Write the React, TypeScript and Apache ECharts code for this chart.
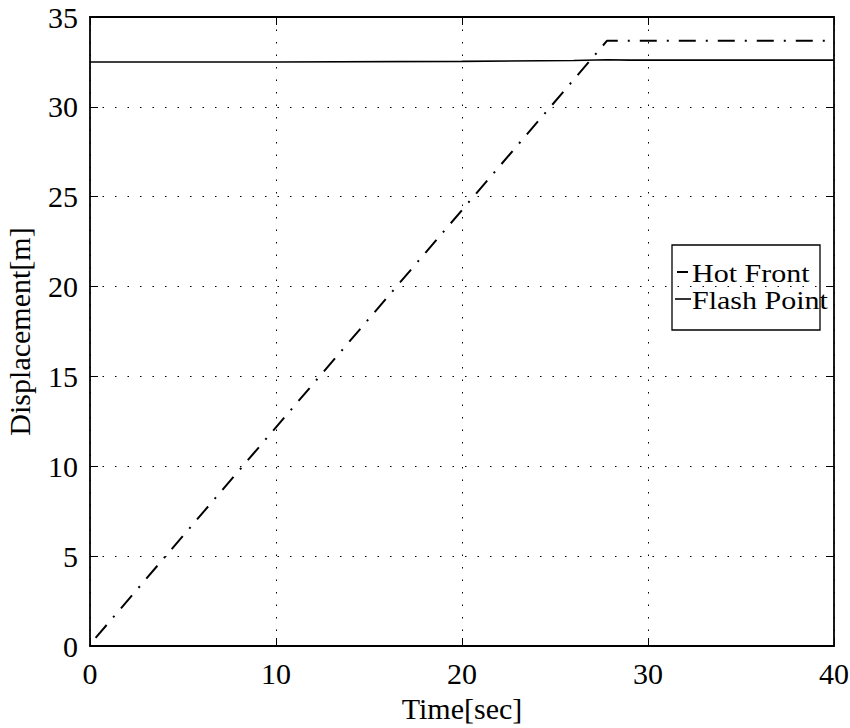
import React, { useEffect, useRef } from "react";
import * as echarts from "echarts";

// Time samples [sec] and displacement [m]
const hotFrontTime = [0.3, 27.8, 40];
const hotFrontDisp = [0.45, 33.68, 33.68];
const flashTime = [0, 10, 20, 26, 27.8, 29, 40];
const flashDisp = [32.5, 32.5, 32.53, 32.58, 32.62, 32.6, 32.6];

const xTicks = [0, 10, 20, 30, 40];
const yTicks = [0, 5, 10, 15, 20, 25, 30, 35];
const legendNames = ["Hot Front", "Flash Point"];

const FONT = "Liberation Serif";
const FS = 30;

export default function App() {
  const ref = useRef<HTMLDivElement>(null);

  useEffect(() => {
    if (!ref.current) return;
    const chart = echarts.init(ref.current, null, { renderer: "svg" });

    const axisCommon = {
      axisLine: { show: true, onZero: false, lineStyle: { color: "#000", width: 1.8 } },
      axisTick: { show: true, inside: true, length: 8, lineStyle: { color: "#000", width: 1 } },
    };

    // Boxed legend in the upper right of the plot
    const boxL = 672;
    const boxT = 245;
    const boxW = 148;
    const boxH = 85;
    const legendText = (name: string, y: number) => ({
      type: "text",
      x: 692,
      y,
      scaleX: 1.2,
      style: { text: name, font: `25px '${FONT}'`, fill: "#000", textVerticalAlign: "middle" },
    });
    const legendGraphic = {
      type: "group",
      z: 100,
      children: [
        {
          type: "rect",
          shape: { x: boxL, y: boxT, width: boxW, height: boxH },
          style: { fill: "#fff", stroke: "#000", lineWidth: 1.3 },
        },
        {
          type: "line",
          shape: { x1: boxL + 5, y1: 272, x2: boxL + 16, y2: 272 },
          style: { stroke: "#000", lineWidth: 2 },
        },
        {
          type: "line",
          shape: { x1: boxL + 3, y1: 299, x2: boxL + 19, y2: 299 },
          style: { stroke: "#000", lineWidth: 1.6 },
        },
        legendText(legendNames[0], 273),
        legendText(legendNames[1], 300),
      ],
    };

    chart.setOption({
      animation: false,
      backgroundColor: "#fff",
      grid: { left: 90, right: 16, top: 17, bottom: 82, containLabel: false, outerBoundsMode: "none" },
      xAxis: [
        {
          type: "value",
          position: "bottom",
          min: 0,
          max: 40,
          interval: 10,
          ...axisCommon,
          axisLabel: {
            margin: 12,
            fontFamily: FONT,
            fontSize: FS,
            color: "#000",
            formatter: (v: number) => (xTicks.includes(v) ? String(v) : ""),
          },
          splitLine: { show: true, lineStyle: { color: "#000", type: [1.5, 11], width: 1 } },
          name: "Time[sec]",
          nameLocation: "middle",
          nameGap: 47,
          nameTextStyle: { fontFamily: FONT, fontSize: FS, color: "#000" },
        },
        {
          type: "value",
          position: "top",
          min: 0,
          max: 40,
          interval: 10,
          ...axisCommon,
          axisLabel: { show: false },
          splitLine: { show: false },
        },
      ],
      yAxis: [
        {
          type: "value",
          position: "left",
          min: 0,
          max: 35,
          interval: 5,
          ...axisCommon,
          axisLabel: {
            margin: 12,
            fontFamily: FONT,
            fontSize: FS,
            color: "#000",
            formatter: (v: number) => (yTicks.includes(v) ? String(v) : ""),
          },
          splitLine: { show: true, lineStyle: { color: "#000", type: [1.5, 11], width: 1 } },
          name: "Displacement[m]",
          nameLocation: "middle",
          nameGap: 56,
          nameTextStyle: { fontFamily: FONT, fontSize: FS, color: "#000" },
        },
        {
          type: "value",
          position: "right",
          min: 0,
          max: 35,
          interval: 5,
          ...axisCommon,
          axisLabel: { show: false },
          splitLine: { show: false },
        },
      ],
      graphic: [legendGraphic],
      series: [
        {
          name: legendNames[0],
          type: "line",
          symbol: "none",
          data: hotFrontTime.map((t, i) => [t, hotFrontDisp[i]]),
          lineStyle: { color: "#000", width: 2, type: [17, 10, 2, 10] },
          itemStyle: { color: "#000" },
        },
        {
          name: legendNames[1],
          type: "line",
          symbol: "none",
          data: flashTime.map((t, i) => [t, flashDisp[i]]),
          lineStyle: { color: "#000", width: 1.6, type: "solid" },
          itemStyle: { color: "#000" },
        },
      ],
    });

    return () => chart.dispose();
  }, []);

  return <div ref={ref} style={{ width: 850, height: 728, position: "absolute", left: 0, top: 0 }} />;
}
